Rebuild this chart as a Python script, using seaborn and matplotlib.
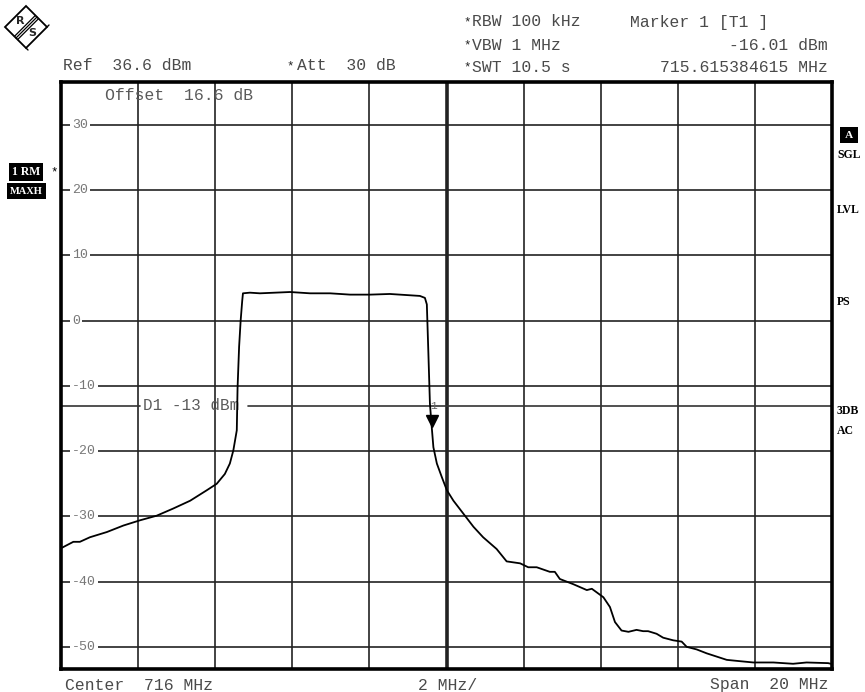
import numpy as np
import pandas as pd
import matplotlib
matplotlib.use("Agg")
import matplotlib.pyplot as plt
import matplotlib.transforms as mtransforms
from matplotlib.patches import Polygon
import seaborn as sns

# ---------------- data ----------------
freq_mhz = [706.03, 706.06, 706.32, 706.49, 706.75, 707.19, 707.62, 708.05, 708.48, 708.91,
            709.35, 709.78, 710.04, 710.25, 710.38, 710.47, 710.56, 710.58, 710.62, 710.66,
            710.70, 710.72, 710.90, 711.16, 711.55, 711.94, 712.46, 712.98, 713.50, 714.02,
            714.53, 715.05, 715.31, 715.44, 715.49, 715.53, 715.57, 715.61, 715.66, 715.75,
            715.88, 716.01, 716.18, 716.44, 716.70, 716.95, 717.30, 717.56, 717.91, 718.12,
            718.34, 718.68, 718.81, 718.94, 719.29, 719.64, 719.77, 720.07, 720.24, 720.37,
            720.54, 720.72, 720.93, 721.10, 721.23, 721.45, 721.62, 721.88, 722.10, 722.23,
            722.49, 722.75, 723.01, 723.27, 723.61, 723.96, 724.48, 724.99, 725.34, 725.90,
            725.97]
level_dbm = [-34.8, -34.7, -33.9, -33.9, -33.2, -32.4, -31.4, -30.6, -29.9, -28.8,
             -27.6, -26.0, -25.0, -23.5, -21.9, -19.9, -16.8, -10.3, -4.0, 0.0,
             3.0, 4.2, 4.3, 4.2, 4.3, 4.4, 4.2, 4.2, 4.0, 4.0,
             4.1, 3.9, 3.8, 3.5, 2.5, -5.0, -12.7, -15.8, -19.4, -21.9,
             -24.0, -26.0, -27.6, -29.6, -31.6, -33.2, -35.0, -36.9, -37.2, -37.8,
             -37.8, -38.5, -38.5, -39.6, -40.4, -41.3, -41.1, -42.4, -43.9, -46.2,
             -47.5, -47.7, -47.4, -47.6, -47.6, -48.0, -48.6, -49.0, -49.2, -50.0,
             -50.4, -51.0, -51.5, -52.0, -52.2, -52.4, -52.4, -52.6, -52.4, -52.5,
             -52.6]
y_grid = [30, 20, 10, 0, -10, -20, -30, -40, -50]
y_labels = ["30", "20", "10", "0", "-10", "-20", "-30", "-40", "-50"]
x_grid = [708, 710, 712, 714, 716, 718, 720, 722, 724]
f_start, f_stop = 706, 726
ref_top, ref_bottom = 36.6, -53.4
display_line_dbm = -13
marker_freq, marker_level = 715.615384615, -16.01

df = pd.DataFrame({"freq": freq_mhz, "level": level_dbm})

# ---------------- figure ----------------
sns.set_style("white")
plt.rcParams["font.family"] = ["Liberation Mono", "DejaVu Sans"]
W, H = 865, 692
fig = plt.figure(figsize=(W / 100, H / 100), dpi=100)
ax = fig.add_axes([61 / W, 1 - 669 / H, 771 / W, 587 / H])

ax.set_xlim(f_start, f_stop)
ax.set_ylim(ref_bottom, ref_top)
ax.set_xticks(x_grid)
ax.set_yticks(y_grid)
ax.set_xticklabels([])
ax.set_yticklabels([])
ax.tick_params(length=0)
for s in ax.spines.values():
    s.set_linewidth(2.6)
    s.set_color("black")

for xv in x_grid:
    ax.axvline(xv, color="#222222", lw=2.6 if xv == 716 else 1.2, zorder=1)
for yv in y_grid:
    ax.axhline(yv, color="#222222", lw=1.2, zorder=1)

# display line D1
d1_left_end = 708.05
d1_right_start = 710.85
ax.plot([f_start, d1_left_end], [display_line_dbm] * 2, color="#333333", lw=1.2, zorder=1)
ax.plot([d1_right_start, f_stop], [display_line_dbm] * 2, color="#333333", lw=1.2, zorder=1)
ax.text(708.13, display_line_dbm, "D1 -13 dBm", fontsize=11.5, color="#5a5a5a",
        ha="left", va="center", zorder=2)

# y labels inside the plot
for yv, lab in zip(y_grid, y_labels):
    ax.text(0.0143, yv, lab, transform=ax.get_yaxis_transform(), fontsize=9.5,
            color="#777777", ha="left", va="center", zorder=3,
            bbox=dict(boxstyle="square,pad=0.15", fc="white", ec="none"))

# trace
sns.lineplot(data=df, x="freq", y="level", ax=ax, color="black", lw=1.3,
             sort=False, estimator=None, zorder=4)
ax.set_xlabel("")
ax.set_ylabel("")

# marker
off = mtransforms.ScaledTranslation(0, 4 / 100, fig.dpi_scale_trans)
ax.plot([marker_freq], [marker_level], marker="v", color="black", ms=8,
        transform=ax.transData + off, zorder=5)
ax.text(marker_freq + 0.05, display_line_dbm, "1", fontsize=8, color="#666666",
        ha="center", va="center", zorder=5)

# offset text
ax.text(706 + (105 - 61) / 38.55, 36.6 - (96 - 82) / 6.5375, "Offset  16.6 dB",
        fontsize=11.8, color="#5a5a5a", ha="left", va="center", zorder=5)


def ftext(x, y, s, **kw):
    fig.text(x / W, 1 - y / H, s, **kw)


hdr = dict(fontsize=11.8, color="#4a4a4a", va="center")
ftext(63, 66, "Ref  36.6 dBm", ha="left", **hdr)
ftext(297, 66, "Att  30 dB", ha="left", **hdr)
ftext(472, 22, "RBW 100 kHz", ha="left", **hdr)
ftext(472, 45, "VBW 1 MHz", ha="left", **hdr)
ftext(472, 67, "SWT 10.5 s", ha="left", **hdr)
for yy in (22, 45, 67):
    ftext(467, yy, "*", ha="center", fontsize=9, color="#222222", va="center")
ftext(290, 66, "*", ha="center", fontsize=9, color="#222222", va="center")
ftext(630, 22, "Marker 1 [T1 ]", ha="left", **hdr)
ftext(828, 45, "-16.01 dBm", ha="right", **hdr)
ftext(828, 67, "715.615384615 MHz", ha="right", **hdr)
ftext(65, 685, "Center  716 MHz", ha="left", **hdr)
ftext(418, 685, "2 MHz/", ha="left", **hdr)
ftext(828, 685, "Span  20 MHz", ha="right", **hdr)

# right side annotations
serif = ["Liberation Serif", "DejaVu Serif"]
serif_b = dict(family=serif, fontweight="bold", fontsize=8.5, color="black",
               va="center", ha="left")
ftext(837, 155, "SGL", **serif_b)
ftext(837, 210, "LVL", **serif_b)
ftext(837, 302, "PS", **serif_b)
ftext(837, 411, "3DB", **serif_b)
ftext(837, 431, "AC", **serif_b)
fig.text(849 / W, 1 - 135 / H, " A ", family=serif, fontweight="bold", fontsize=8,
         color="white", ha="center", va="center",
         bbox=dict(boxstyle="square,pad=0.3", fc="black", ec="none"))

# left annotations
fig.text(26 / W, 1 - 172 / H, "1 RM", family=serif, fontweight="bold", fontsize=8.5,
         color="white", ha="center", va="center",
         bbox=dict(boxstyle="square,pad=0.25", fc="black", ec="none"))
fig.text(26 / W, 1 - 191 / H, "MAXH", family=serif, fontweight="bold", fontsize=7.5,
         color="white", ha="center", va="center",
         bbox=dict(boxstyle="square,pad=0.3", fc="black", ec="none"))
ftext(54, 172, "*", ha="center", fontsize=9, color="black", va="center")

# logo
lax = fig.add_axes([0, 1 - 56 / H, 56 / W, 56 / H])
lax.set_xlim(0, 56)
lax.set_ylim(56, 0)
lax.axis("off")
lax.add_patch(Polygon([(26, 6), (47, 27), (26, 48), (5, 27)], closed=True,
                      fill=False, ec="black", lw=1.3))
lax.plot([47, 49], [27, 25], color="black", lw=1)
lax.plot([26, 28], [48, 50], color="black", lw=1)
for d in (-1.6, 0, 1.6):
    lax.plot([16 + d, 37 + d], [38 + d, 17 + d], color="black", lw=0.9)
lax.text(20, 21, "R", fontsize=8, fontweight="bold", ha="center", va="center",
         family=["DejaVu Sans"])
lax.text(32, 33, "S", fontsize=8, fontweight="bold", ha="center", va="center",
         family=["DejaVu Sans"])

fig.savefig("out.png", dpi=100)
